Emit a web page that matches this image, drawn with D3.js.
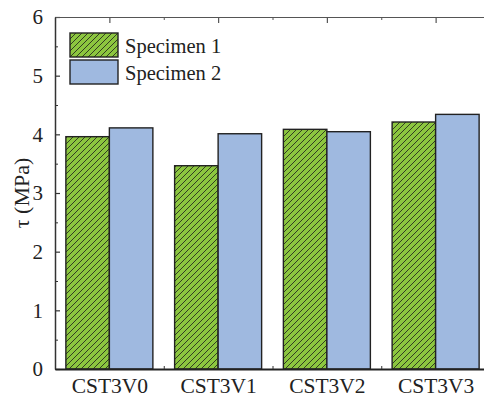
<!DOCTYPE html>
<html>
<head>
<meta charset="utf-8">
<script src="https://cdn.jsdelivr.net/npm/d3@7"></script>
<style>
  body { margin: 0; background: #fff; }
</style>
</head>
<body>
<svg id="chart" width="484" height="398"></svg>
<script>
const categories = ["CST3V0", "CST3V1", "CST3V2", "CST3V3"];
const specimen1 = [3.96, 3.465, 4.085, 4.21];
const specimen2 = [4.11, 4.01, 4.045, 4.34];
const seriesNames = ["Specimen 1", "Specimen 2"];
const yTicks = [0, 1, 2, 3, 4, 5, 6];

const FONT = "'Liberation Serif'";
const margin = { top: 17, right: -6, bottom: 29, left: 55 };
const W = 484, H = 398;
const width = W - margin.left - margin.right;
const height = H - margin.top - margin.bottom;

const GREEN = "#8cc63f";
const BLUE = "#9fb9e0";
const EDGE = "#222";

const svg = d3.select("#chart");

// hatch pattern for specimen 1
const defs = svg.append("defs");
const pat = defs.append("pattern")
  .attr("id", "hatch")
  .attr("patternUnits", "userSpaceOnUse")
  .attr("width", 6)
  .attr("height", 6);
pat.append("rect").attr("width", 6).attr("height", 6).attr("fill", GREEN);
pat.append("path")
  .attr("d", "M-1,1 L1,-1 M0,6 L6,0 M5,7 L7,5")
  .attr("stroke", "#1a1a1a")
  .attr("stroke-width", 0.8);

const g = svg.append("g").attr("transform", `translate(${margin.left},${margin.top})`);

// x is linear 0.5..4.5 so category i sits at i+1
const x = d3.scaleLinear().domain([0.5, 4.5]).range([0, width]);
const y = d3.scaleLinear().domain([0, 6]).range([height, 0]);
const step = x(2) - x(1);
const barW = step * 0.4;

const data = categories.map((c, i) => ({ c, i, s1: specimen1[i], s2: specimen2[i] }));

// bars
g.selectAll(".b1").data(data).enter().append("rect")
  .attr("class", "b1")
  .attr("x", d => x(d.i + 1) - barW)
  .attr("y", d => y(d.s1))
  .attr("width", barW)
  .attr("height", d => y(0) - y(d.s1))
  .attr("fill", "url(#hatch)")
  .attr("stroke", EDGE)
  .attr("stroke-width", 1.4);

g.selectAll(".b2").data(data).enter().append("rect")
  .attr("class", "b2")
  .attr("x", d => x(d.i + 1))
  .attr("y", d => y(d.s2))
  .attr("width", barW)
  .attr("height", d => y(0) - y(d.s2))
  .attr("fill", BLUE)
  .attr("stroke", EDGE)
  .attr("stroke-width", 1.4);

// axes
const minorY = d3.range(0.5, 6, 1);
const leftAx = g.append("g")
  .call(d3.axisLeft(y).tickValues(yTicks).tickSizeInner(-5).tickSizeOuter(0).tickPadding(12).tickFormat(d3.format("d")));
leftAx.select(".domain").attr("stroke", "#333").attr("stroke-width", 1.5);
leftAx.selectAll(".tick line").attr("stroke", "#333").attr("stroke-width", 1.2);
leftAx.selectAll(".tick text").attr("font-size", 21).attr("fill", "#222").style("font-family", FONT);
g.append("g")
  .call(d3.axisLeft(y).tickValues(minorY).tickSizeInner(-3).tickSizeOuter(0).tickFormat(""))
  .call(a => a.select(".domain").remove())
  .selectAll(".tick line").attr("stroke", "#333").attr("stroke-width", 1);

const catTicks = d3.range(1, 5);
const minorX = [1.5, 2.5, 3.5];

const topAx = g.append("g")
  .call(d3.axisTop(x).tickValues(catTicks).tickSizeInner(-6).tickSizeOuter(0).tickFormat(""));
topAx.select(".domain").attr("stroke", "#555").attr("stroke-width", 1.2);
topAx.selectAll(".tick line").attr("stroke", "#555").attr("stroke-width", 1.2);
g.append("g")
  .call(d3.axisTop(x).tickValues(minorX).tickSizeInner(-3).tickSizeOuter(0).tickFormat(""))
  .call(a => a.select(".domain").remove())
  .selectAll(".tick line").attr("stroke", "#555").attr("stroke-width", 1);

const botAx = g.append("g")
  .attr("transform", `translate(0,${height})`)
  .call(d3.axisBottom(x).tickValues(catTicks).tickSizeInner(0).tickSizeOuter(0).tickPadding(9)
    .tickFormat(d => categories[d - 1]));
botAx.select(".domain").attr("stroke", "#222").attr("stroke-width", 2.2);
botAx.selectAll(".tick text").attr("font-size", 21.5).attr("fill", "#222").style("font-family", FONT);
g.append("g")
  .attr("transform", `translate(0,${height})`)
  .call(d3.axisBottom(x).tickValues(minorX).tickSizeInner(-3).tickSizeOuter(0).tickFormat(""))
  .call(a => a.select(".domain").remove())
  .selectAll(".tick line").attr("stroke", "#333").attr("stroke-width", 1);

// y title
svg.append("text")
  .attr("transform", `translate(29,${margin.top + height / 2}) rotate(-90)`)
  .attr("text-anchor", "middle")
  .attr("font-size", 22)
  .attr("fill", "#222")
  .style("font-family", FONT)
  .text("τ (MPa)");

// legend
const legend = svg.append("g").attr("transform", "translate(70,33)");
const legItems = legend.selectAll("g").data(seriesNames).enter().append("g")
  .attr("transform", (d, i) => `translate(0,${i * 27})`);
legItems.append("rect")
  .attr("width", 48)
  .attr("height", 24)
  .attr("fill", (d, i) => i === 0 ? "url(#hatch)" : BLUE)
  .attr("stroke", EDGE)
  .attr("stroke-width", 1.4);
legItems.append("text")
  .attr("x", 55)
  .attr("y", 20)
  .attr("font-size", 20.5)
  .attr("fill", "#222")
  .style("font-family", FONT)
  .text(d => d);
</script>
</body>
</html>
